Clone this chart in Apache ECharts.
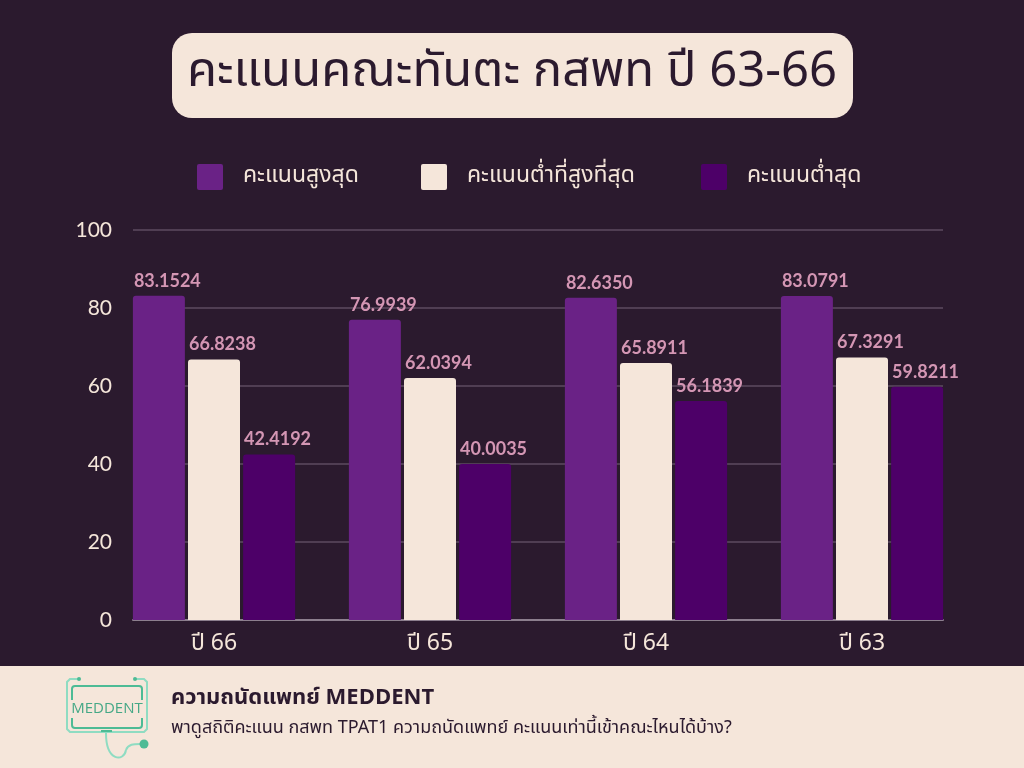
<!DOCTYPE html>
<html>
<head>
<meta charset="utf-8">
<script src="https://cdn.jsdelivr.net/npm/echarts@6/dist/echarts.min.js"></script>
<style>html,body{margin:0;padding:0;background:#2b1a2e;}#c{width:1024px;height:768px;}</style>
</head>
<body>
<div id="c"></div>
<script>
const categories = ['ปี 66', 'ปี 65', 'ปี 64', 'ปี 63'];
const seriesNames = ['คะแนนสูงสุด', 'คะแนนต่ำที่สูงที่สุด', 'คะแนนต่ำสุด'];
const maxScores = [83.1524, 76.9939, 82.6350, 83.0791];
const highestMinScores = [66.8238, 62.0394, 65.8911, 67.3291];
const minScores = [42.4192, 40.0035, 56.1839, 59.8211];
const yTicks = { min: 0, max: 100, interval: 20 };

const BG = '#2b1a2e', CREAM = '#f5e6da';
const colors = ['#6a2286', CREAM, '#4d0068'];
const thai = '"Noto Sans Thai", "Noto Sans Thai UI", "Noto Sans", "DejaVu Sans", sans-serif';
const num = 'Lato, "Noto Sans", sans-serif';

const chart = echarts.init(document.getElementById('c'));
const legendIcon = 'path://M2,0H24A2,2 0 0 1 26,2V24A2,2 0 0 1 24,26H2A2,2 0 0 1 0,24V2A2,2 0 0 1 2,0Z';
const legendLefts = [197, 421, 701];

function mkSeries(name, data, i) {
  return {
    name: name, type: 'bar', xAxisIndex: 1, yAxisIndex: 1,
    data: data, barWidth: 52, barGap: '6%',
    itemStyle: { color: colors[i], borderRadius: [3, 3, 0, 0] },
    label: {
      show: true, position: [1, -6], align: 'left', verticalAlign: 'bottom',
      color: '#d496b4', fontSize: 18, fontWeight: 'bold', fontFamily: num,
      formatter: p => p.value.toFixed(4)
    }
  };
}

chart.setOption({
  backgroundColor: BG,
  animation: false,
  legend: seriesNames.map((n, i) => ({
    data: [n], left: legendLefts[i], top: 164, padding: 0,
    itemWidth: 26, itemHeight: 26, icon: legendIcon,
    textStyle: { color: CREAM, fontSize: 23, fontFamily: thai, padding: [0, 0, 0, 15] },
    selectedMode: false
  })),
  grid: [
    { left: 133, width: 810, top: 230, height: 390 },
    { left: 106, width: 864, top: 230, height: 390 }
  ],
  xAxis: [
    { gridIndex: 0, type: 'value', min: 0, max: 1, axisLabel: { show: false }, axisTick: { show: false },
      splitLine: { show: false }, axisLine: { show: true, lineStyle: { color: '#8c7f8e', width: 2 } } },
    { gridIndex: 1, type: 'category', data: categories, axisLine: { show: false }, axisTick: { show: false },
      axisLabel: { color: CREAM, fontSize: 23, fontFamily: thai, margin: 14 } }
  ],
  yAxis: [
    { gridIndex: 0, type: 'value', min: yTicks.min, max: yTicks.max, interval: yTicks.interval,
      axisLine: { show: false }, axisTick: { show: false },
      axisLabel: { color: CREAM, fontSize: 21, fontFamily: num, margin: 21 },
      splitLine: { lineStyle: { color: '#5e4b60', width: 1.5 } } },
    { gridIndex: 1, type: 'value', min: yTicks.min, max: yTicks.max, interval: yTicks.interval,
      show: false, splitLine: { show: false } }
  ],
  series: [
    mkSeries(seriesNames[0], maxScores, 0),
    mkSeries(seriesNames[1], highestMinScores, 1),
    mkSeries(seriesNames[2], minScores, 2)
  ],
  graphic: [
    { type: 'rect', shape: { x: 172, y: 33, width: 681, height: 85, r: 20 }, style: { fill: CREAM }, z: 1 },
    { type: 'text', x: 512, y: 76, z: 2, style: { text: 'คะแนนคณะทันตะ กสพท ปี 63-66', fill: BG, font: '49px ' + thai, align: 'center', verticalAlign: 'middle' } },
    { type: 'rect', shape: { x: 0, y: 666, width: 1024, height: 102 }, style: { fill: CREAM }, z: 1 },
    { type: 'text', x: 171, y: 700, z: 2, style: { text: 'ความถนัดแพทย์ MEDDENT', fill: BG, font: 'bold 22px ' + thai, verticalAlign: 'middle' } },
    { type: 'text', x: 171, y: 729, z: 2, style: { text: 'พาดูสถิติคะแนน กสพท TPAT1 ความถนัดแพทย์ คะแนนเท่านี้เข้าคณะไหนได้บ้าง?', fill: BG, font: '18px ' + thai, verticalAlign: 'middle' } },
    // logo
    { type: 'polyline', z: 2, shape: { points: [[78, 679], [70, 679], [67, 682], [67, 729], [70, 732], [144, 732], [147, 729], [147, 682], [144, 679], [136, 679]] },
      style: { stroke: '#8fdcc2', lineWidth: 2, fill: null } },
    { type: 'circle', z: 2, shape: { cx: 79, cy: 679, r: 2 }, style: { fill: '#4dbb95' } },
    { type: 'circle', z: 2, shape: { cx: 135, cy: 679, r: 2 }, style: { fill: '#4dbb95' } },
    { type: 'rect', z: 2, shape: { x: 72, y: 686, width: 70, height: 42, r: 3 }, style: { stroke: '#4dbb95', lineWidth: 2, fill: null } },
    { type: 'rect', z: 3, shape: { x: 70, y: 700, width: 74, height: 18 }, style: { fill: CREAM } },
    { type: 'text', z: 4, x: 107, y: 709, style: { text: 'MEDDENT', fill: '#45a886', font: '15px "Open Sans", sans-serif', align: 'center', verticalAlign: 'middle' } },
    { type: 'line', z: 2, shape: { x1: 101, y1: 731, x2: 112, y2: 731 }, style: { stroke: '#4dbb95', lineWidth: 2 } },
    { type: 'bezierCurve', z: 2, shape: { x1: 106, y1: 733, cpx1: 106, cpy1: 762, cpx2: 124, cpy2: 762, x2: 126, y2: 750 } , style: { stroke: '#8fdcc2', lineWidth: 2, fill: null } },
    { type: 'bezierCurve', z: 2, shape: { x1: 126, y1: 750, cpx1: 128, cpy1: 744, cpx2: 134, cpy2: 744, x2: 140, y2: 744 }, style: { stroke: '#8fdcc2', lineWidth: 2, fill: null } },
    { type: 'circle', z: 2, shape: { cx: 144, cy: 744, r: 4.5 }, style: { fill: '#4dbb95' } }
  ]
});
</script>
</body>
</html>
